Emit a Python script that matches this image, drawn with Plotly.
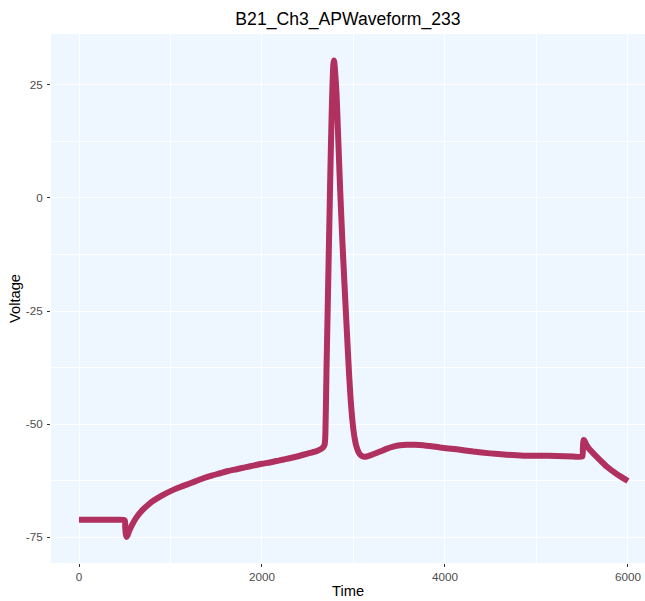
import plotly.graph_objects as go

# Action-potential waveform samples (time in sample units, voltage in mV)
time = [
    0, 100, 200, 300, 400, 500, 505, 512, 521, 532,
    550, 580, 630, 700, 760, 812, 900, 995, 1100, 1177,
    1270, 1359, 1450, 1541, 1630, 1723, 1815, 1905, 2000, 2087,
    2180, 2270, 2360, 2451, 2525, 2597, 2640, 2670, 2685, 2693,
    2705, 2720, 2735, 2750, 2762, 2772, 2779, 2784, 2789, 2796,
    2805, 2816, 2834, 2855, 2878, 2900, 2925, 2951, 2970, 2990,
    3010, 3030, 3055, 3080, 3110, 3144, 3200, 3290, 3360, 3435,
    3510, 3581, 3670, 3763, 3945, 4128, 4310, 4492, 4674, 4856,
    5038, 5221, 5403, 5500, 5507, 5514, 5522, 5540, 5575, 5621,
    5700, 5767, 5880, 6000,
]
voltage = [
    -71.2, -71.2, -71.2, -71.2, -71.2, -71.3, -72.8, -74.4, -75.0, -74.6,
    -73.6, -72.3, -70.6, -68.9, -67.8, -67.0, -65.9, -64.9, -64.0, -63.4,
    -62.7, -62.0, -61.4, -60.9, -60.4, -60.0, -59.6, -59.2, -58.8, -58.5,
    -58.1, -57.7, -57.3, -56.8, -56.4, -56.0, -55.6, -55.1, -54.5, -52.0,
    -38.0, -22.5, -7.0, 8.5, 19.0, 26.0, 29.3, 30.4, 30.2, 28.8,
    26.3, 22.5, 12.8, 1.5, -9.3, -18.5, -28.5, -38.7, -44.8, -49.6,
    -52.8, -54.8, -56.2, -56.9, -57.2, -57.2, -56.8, -56.1, -55.5, -55.0,
    -54.7, -54.6, -54.6, -54.7, -55.2, -55.6, -56.1, -56.5, -56.8, -57.0,
    -57.0, -57.1, -57.2, -57.2, -55.5, -53.6, -53.6, -54.4, -55.5, -56.5,
    -58.1, -59.4, -61.1, -62.6,
]

x_ticks = [0, 2000, 4000, 6000]
x_tick_labels = ["0", "2000", "4000", "6000"]
y_ticks = [-75, -50, -25, 0, 25]
y_tick_labels = ["-75", "-50", "-25", "0", "25"]

FONT = "Liberation Sans, Arial, sans-serif"
PANEL = "#EEF6FF"
LINE = "#B03060"

fig = go.Figure()
fig.add_trace(go.Scatter(
    x=time, y=voltage, mode="lines",
    line=dict(color=LINE, width=6, shape="spline", smoothing=0.6),
    hoverinfo="x+y", showlegend=False,
))

axis_common = dict(
    showgrid=True, gridcolor="white", gridwidth=1.1,
    minor=dict(showgrid=True, gridcolor="white", gridwidth=0.5),
    zeroline=False, showline=False,
    ticks="outside", ticklen=3, tickwidth=1, tickcolor="#333333",
    tickfont=dict(family=FONT, size=11.7, color="#4D4D4D"),
)

fig.update_xaxes(
    range=[-306, 6186], tickvals=x_ticks, ticktext=x_tick_labels,
    minor_tickvals=[1000, 3000, 5000], minor_ticks="",
    title=dict(text="Time", font=dict(family=FONT, size=14.7, color="black"),
               standoff=3),
    **axis_common,
)
fig.update_yaxes(
    range=[-80.75, 36.28], tickvals=y_ticks, ticktext=y_tick_labels,
    minor_tickvals=[-62.5, -37.5, -12.5, 12.5], minor_ticks="",
    title=dict(text="Voltage", font=dict(family=FONT, size=14.7, color="black"),
               standoff=1),
    ticklabelstandoff=2,
    **axis_common,
)

fig.update_layout(
    width=645, height=601,
    margin=dict(l=51, r=0, t=34, b=38, autoexpand=False),
    paper_bgcolor="white", plot_bgcolor=PANEL,
    title=dict(text="B21_Ch3_APWaveform_233", x=0.5, xref="paper",
               y=1 - 19 / 601, yref="container", yanchor="middle",
               font=dict(family=FONT, size=17.6, color="black")),
)

fig.write_html("out.html")
